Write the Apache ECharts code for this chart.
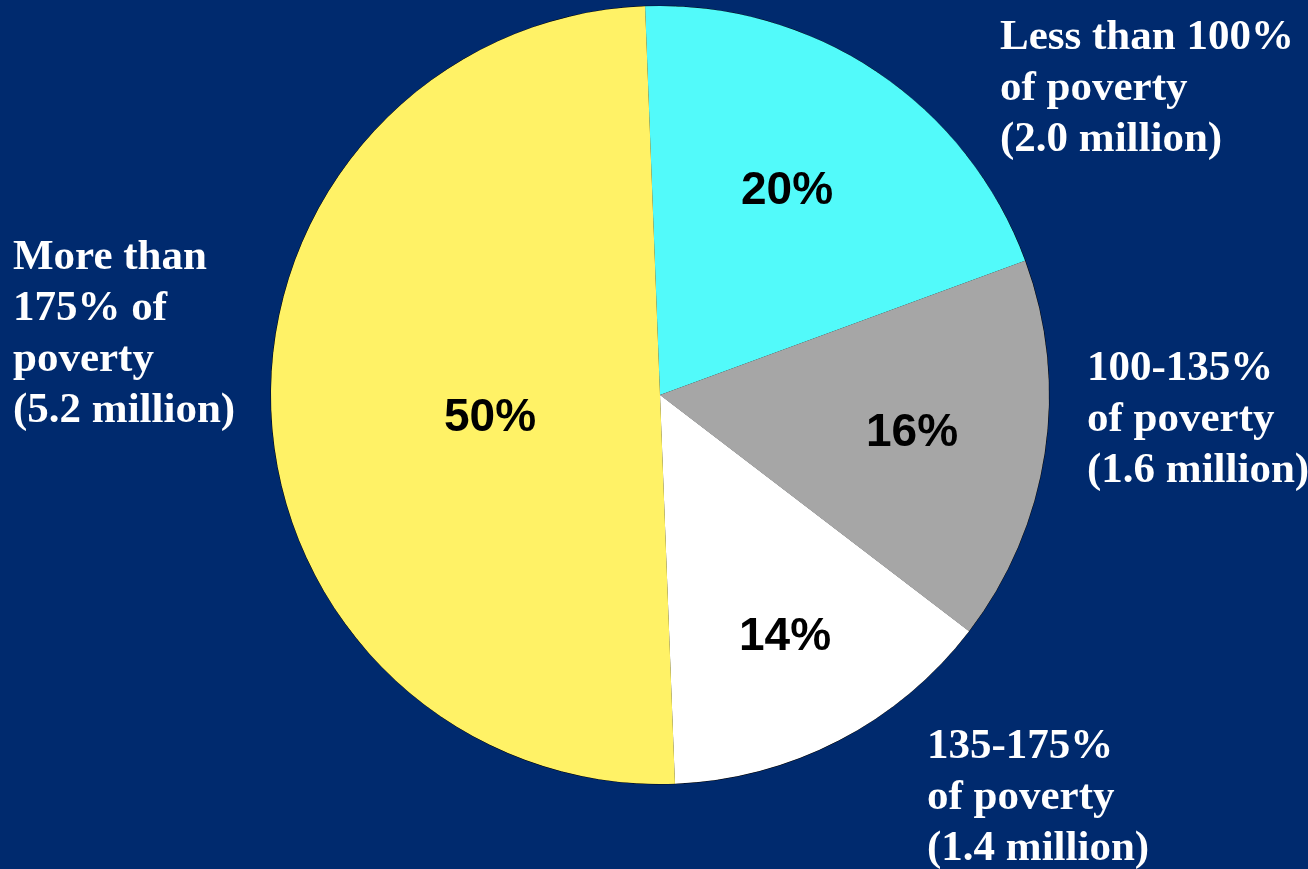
<!DOCTYPE html>
<html lang="en">
<head>
    <meta charset="UTF-8">
    <title>Poverty pie</title>
    <script src="https://cdn.jsdelivr.net/npm/echarts@6/dist/echarts.min.js"></script>
    <style>
        html, body { margin: 0; padding: 0; background: #002a6e; }
        #main { width: 1308px; height: 869px; }
    </style>
</head>
<body>
<div id="main"></div>
<script>
    // data
    let groups = ['Less than 100%\nof poverty', '100-135%\nof poverty', '135-175%\nof poverty', 'More than\n175% of\npoverty'];
    let shares = [20, 16, 14, 50];
    let millions = ['2.0', '1.6', '1.4', '5.2'];
    let colors = ['#52fafa', '#a6a6a6', '#ffffff', '#fff266'];

    // where the labels sit (centre of each block)
    let innerPos = [[787, 191], [912, 433], [785, 637], [490, 418]];
    let outerPos = [[1000, 89], [1087, 420], [927, 798], [13, 334]];

    let chart = echarts.init(document.getElementById('main'));

    let data = groups.map((g, i) => {
        return {
            name: g + '\n(' + millions[i] + ' million)',
            value: shares[i],
            itemStyle: { color: colors[i] }
        }
    });

    let base = {
        type: 'pie',
        center: [660, 395],
        radius: 389,
        startAngle: 92.2,
        clockwise: true,
        animation: false,
        silent: true,
        data: data
    };

    let option = {
        backgroundColor: '#002a6e',
        series: [
            Object.assign({}, base, {
                itemStyle: { borderColor: '#000', borderWidth: 1 },
                label: {
                    show: true,
                    position: 'inside',
                    formatter: '{c}%',
                    color: '#000',
                    fontFamily: 'Liberation Sans',
                    fontWeight: 'bold',
                    fontSize: 46
                },
                labelLine: { show: false },
                labelLayout: function (p) {
                    let pos = innerPos[p.dataIndex];
                    return { x: pos[0], y: pos[1], align: 'center', verticalAlign: 'middle' };
                }
            }),
            Object.assign({}, base, {
                itemStyle: { color: 'transparent', borderWidth: 0 },
                label: {
                    show: true,
                    position: 'outside',
                    formatter: '{b}',
                    color: '#fff',
                    fontFamily: 'Liberation Serif',
                    fontWeight: 'bold',
                    fontSize: 43,
                    lineHeight: 51,
                    width: 400,
                    overflow: 'none'
                },
                labelLine: { show: false },
                labelLayout: function (p) {
                    let pos = outerPos[p.dataIndex];
                    return { x: pos[0], y: pos[1], align: 'left', verticalAlign: 'middle' };
                }
            })
        ]
    };

    chart.setOption(option);
</script>
</body>
</html>
